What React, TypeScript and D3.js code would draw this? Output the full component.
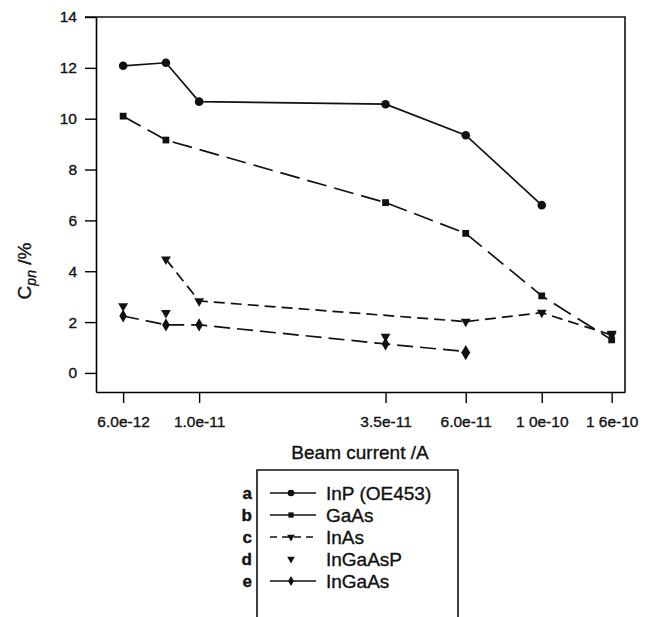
import React, { useEffect, useRef } from 'react';
import * as d3 from 'd3';

// beam current (A) for every measured column
const currents = [6e-12, 8e-12, 1e-11, 3.5e-11, 6e-11, 1e-10, 1.6e-10];

// C_pn values (%) per sample, null where nothing was measured
const inP = [12.08, 12.2, 10.67, 10.57, 9.35, 6.6, null];
const gaAs = [10.1, 9.16, null, 6.7, 5.49, 3.03, 1.3];
const inAs = [null, 4.47, 2.83, null, 2.02, 2.37, 1.49];
const inGaAsP = [2.63, 2.36, null, 1.43, 0.72, null, 1.55];
const inGaAs = [2.24, 1.89, 1.89, 1.14, 0.84, null, null];

const xTicks = [6e-12, 1e-11, 3.5e-11, 6e-11, 1e-10, 1.6e-10];
const xTickLabels = ['6.0e-12', '1.0e-11', '3.5e-11', '6.0e-11', '1 0e-10', '1 6e-10'];
const yTicks = [0, 2, 4, 6, 8, 10, 12, 14];

const legendKeys = ['a', 'b', 'c', 'd', 'e'];
const legendNames = ['InP (OE453)', 'GaAs', 'InAs', 'InGaAsP', 'InGaAs'];

const FONT = '"Liberation Sans", Arial, Helvetica, sans-serif';
const INK = '#111';

export default function App() {
  const ref = useRef<SVGSVGElement>(null);

  useEffect(() => {
    const svg = d3.select(ref.current);
    svg.selectAll('*').remove();

    const left = 96, right = 625, top = 17, bottom = 392;

    const x = d3.scaleLog().domain([5e-12, 1.75e-10]).range([left, right]);
    const y = d3.scaleLinear().domain([-0.75, 14]).range([bottom, top]);

    const series = [
      { values: inP, dash: null, line: true, symbol: d3.symbolCircle, size: 58, rot: 0 },
      { values: gaAs, dash: '20 8', line: true, symbol: d3.symbolSquare, size: 46, rot: 0 },
      { values: inAs, dash: '11 6', line: true, symbol: d3.symbolTriangle, size: 42, rot: 180 },
      { values: inGaAsP, dash: null, line: false, symbol: d3.symbolTriangle, size: 42, rot: 180 },
      { values: inGaAs, dash: '16 7', line: true, symbol: d3.symbolDiamond, size: 50, rot: 0 },
    ];

    // scanned-looking text is a little heavier than plain regular
    const ink = (sel: any) => sel
      .attr('font-family', FONT)
      .attr('fill', INK)
      .attr('stroke', INK)
      .attr('stroke-width', 0.35);

    // frame
    svg.append('path')
      .attr('d', `M${left - 11},${top}H${right}V${bottom}`)
      .attr('fill', 'none')
      .attr('stroke', INK)
      .attr('stroke-width', 1.6);

    const yAxis = svg.append('g')
      .attr('transform', `translate(${left},0)`)
      .call(d3.axisLeft(y).tickValues(yTicks).tickSize(11).tickPadding(8).tickSizeOuter(0));
    yAxis.select('.domain').attr('stroke-width', 1.6);
    yAxis.selectAll('line').attr('stroke-width', 1.4);
    yAxis.selectAll('text').call(ink).attr('font-size', 15.5);

    const xAxis = svg.append('g')
      .attr('transform', `translate(0,${bottom})`)
      .call(d3.axisBottom(x).tickValues(xTicks)
        .tickFormat((d, i) => xTickLabels[i])
        .tickSize(11).tickPadding(13).tickSizeOuter(0));
    xAxis.select('.domain').attr('stroke-width', 1.6);
    xAxis.selectAll('line').attr('stroke-width', 1.4);
    xAxis.selectAll('text').call(ink).attr('font-size', 15.5);

    // axis titles
    const yTitle = svg.append('text')
      .attr('transform', 'translate(31,271) rotate(-90)')
      .attr('text-anchor', 'middle')
      .attr('font-size', 19)
      .call(ink);
    yTitle.append('tspan').text('C');
    yTitle.append('tspan').attr('dy', 5).attr('font-size', 14).attr('font-style', 'italic').text('pn');
    yTitle.append('tspan').attr('dy', -5).text(' /%');

    svg.append('text')
      .attr('x', 360)
      .attr('y', 459)
      .attr('text-anchor', 'middle')
      .attr('font-size', 19)
      .call(ink)
      .text('Beam current /A');

    // series
    series.forEach(s => {
      const pts = currents
        .map((c, i) => ({ c, v: s.values[i] }))
        .filter(p => p.v !== null) as { c: number; v: number }[];

      if (s.line) {
        const line = d3.line<{ c: number; v: number }>()
          .x(p => x(p.c))
          .y(p => y(p.v));
        svg.append('path')
          .attr('d', line(pts))
          .attr('fill', 'none')
          .attr('stroke', INK)
          .attr('stroke-width', 1.7)
          .attr('stroke-dasharray', s.dash);
      }

      svg.selectAll(null)
        .data(pts)
        .enter()
        .append('path')
        .attr('d', d3.symbol().type(s.symbol).size(s.size)())
        .attr('transform', p => `translate(${x(p.c)},${y(p.v)}) rotate(${s.rot})`)
        .attr('fill', INK);
    });

    // legend
    const lx = 257, ly = 470, rowY = 493, rowStep = 22;
    svg.append('path')
      .attr('d', `M${lx},617V${ly}H458V617`)
      .attr('fill', 'none')
      .attr('stroke', INK)
      .attr('stroke-width', 1.6);

    const legendDash = [null, null, '7 5', null, null];
    const rows = svg.selectAll(null)
      .data(legendKeys)
      .enter()
      .append('g')
      .attr('transform', (d, i) => `translate(0,${rowY + i * rowStep})`);

    rows.append('text')
      .attr('x', 252)
      .attr('y', 6)
      .attr('text-anchor', 'end')
      .attr('font-weight', 'bold')
      .attr('font-size', 17)
      .call(ink)
      .text(d => d);

    rows.each(function (d, i) {
      const g = d3.select(this);
      const s = series[i];
      if (s.line) {
        g.append('line')
          .attr('x1', 270).attr('x2', 316)
          .attr('y1', 0).attr('y2', 0)
          .attr('stroke', INK)
          .attr('stroke-width', 1.5)
          .attr('stroke-dasharray', legendDash[i]);
      }
      g.append('path')
        .attr('d', d3.symbol().type(s.symbol).size(s.size * 0.6)())
        .attr('transform', `translate(291,0) rotate(${s.rot})`)
        .attr('fill', INK);
    });

    rows.append('text')
      .attr('x', 326)
      .attr('y', 7)
      .attr('font-size', 19)
      .call(ink)
      .text((d, i) => legendNames[i]);
  }, []);

  return (
    <svg
      ref={ref}
      width={647}
      height={617}
      style={{ position: 'absolute', left: 0, top: 0, background: '#fff' }}
    />
  );
}
